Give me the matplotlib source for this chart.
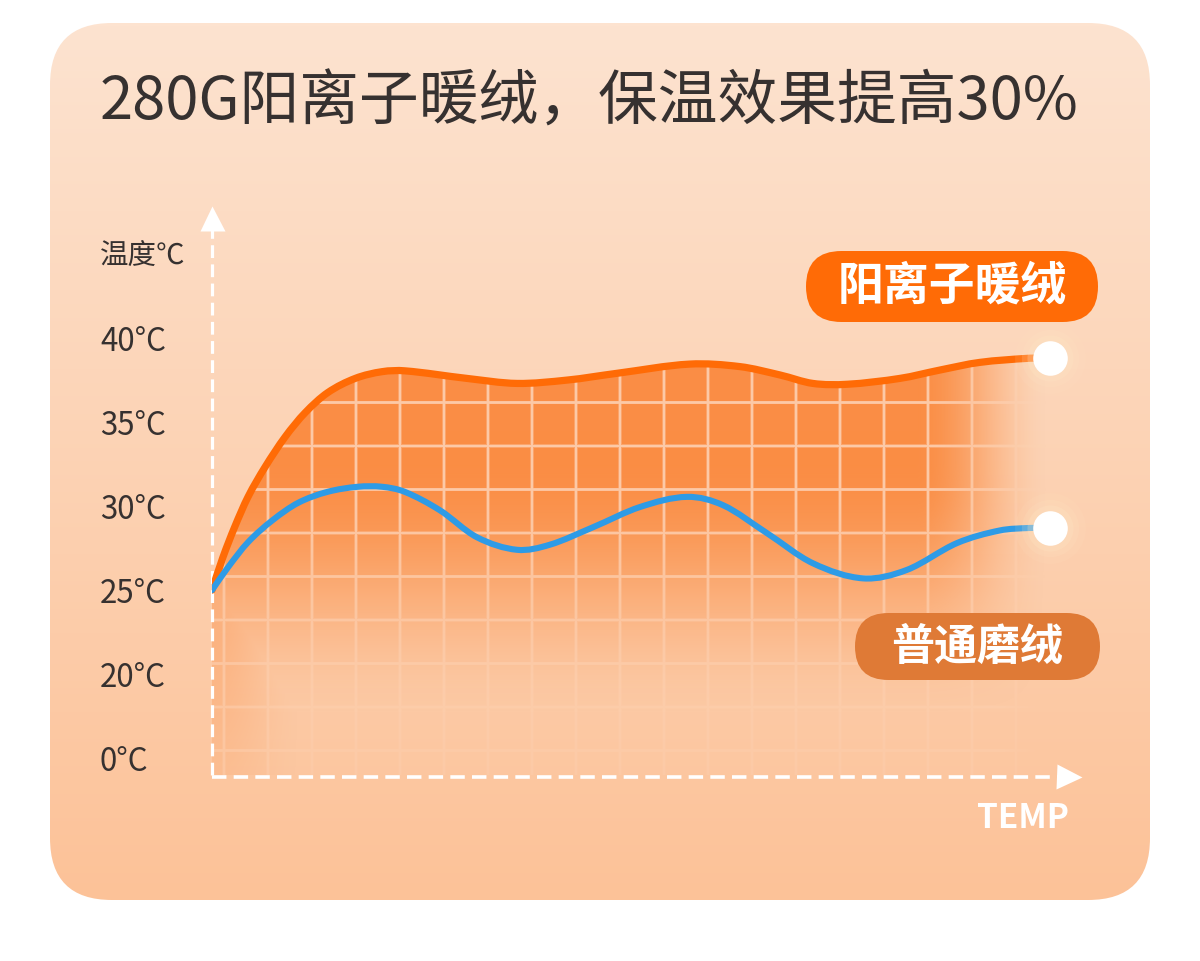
import numpy as np
import matplotlib
matplotlib.use("Agg")
import matplotlib.pyplot as plt
from matplotlib.patches import FancyBboxPatch, PathPatch
from matplotlib.path import Path

plt.rcParams['font.family'] = ['Noto Sans CJK SC', 'DejaVu Sans']

W, H = 1200, 961

title = "280G阳离子暖绒，保温效果提高30%"
y_name = "温度℃"
x_name = "TEMP"
y_ticks = [0, 20, 25, 30, 35, 40]
y_tick_labels = ["0°C", "20°C", "25°C", "30°C", "35°C", "40°C"]

name_orange = "阳离子暖绒"
x_orange = [0, 1.3, 2.7, 4.3, 6.3, 8.7, 11.1, 13.8, 17.1, 20.3, 23.0, 30.4, 36.4,
            42.4, 48.3, 57.0, 63.0, 67.8, 71.7, 75.8, 82.1, 86.9, 91.6, 97.6, 100]
t_orange = [25.0, 26.95, 28.75, 30.55, 32.3, 34.1, 35.55, 36.75, 37.6, 38.0, 38.05, 37.6, 37.3,
            37.5, 37.9, 38.45, 38.3, 37.8, 37.3, 37.25, 37.6, 38.1, 38.55, 38.8, 38.8]

name_blue = "普通磨绒"
x_blue = [0, 1.9, 4.3, 7.2, 10.3, 13.8, 17.4, 20.3, 23.0, 27.2, 31.6, 36.4, 40.3, 45.5,
          51.1, 56.7, 61.0, 66.2, 71.7, 77.7, 82.9, 88.9, 94.0, 97.6, 100]
t_blue = [25.0, 26.35, 27.85, 29.15, 30.2, 30.85, 31.15, 31.15, 30.85, 29.75, 28.15, 27.4, 27.7,
          28.75, 29.95, 30.55, 30.05, 28.4, 26.6, 25.7, 26.2, 27.8, 28.55, 28.7, 28.7]

INK = "#363130"
ORANGE = "#ff6b06"
BLUE = "#2e9be6"
FILL = np.array([250, 136, 60]) / 255

# evenly spaced tick positions on the y axis (0, 20, 25 ... 40)
scale_t = [-20, 0, 20, 25, 30, 35, 40, 60, 80]
scale_i = [-1, 0, 1, 2, 3, 4, 5, 6, 7]


def fwd(t):
    return np.interp(t, scale_t, scale_i)


def inv(i):
    return np.interp(i, scale_i, scale_t)


def smooth_path(x, y):
    # cubic hermite through the read points, drawn as bezier segments
    x = np.asarray(x, float)
    y = np.asarray(y, float)
    m = np.empty_like(y)
    m[1:-1] = (y[2:] - y[:-2]) / (x[2:] - x[:-2])
    m[0] = (y[1] - y[0]) / (x[1] - x[0])
    m[-1] = (y[-1] - y[-2]) / (x[-1] - x[-2])
    verts = [(x[0], y[0])]
    codes = [Path.MOVETO]
    for i in range(len(x) - 1):
        h = x[i + 1] - x[i]
        verts += [(x[i] + h / 3, y[i] + m[i] * h / 3),
                  (x[i + 1] - h / 3, y[i + 1] - m[i + 1] * h / 3),
                  (x[i + 1], y[i + 1])]
        codes += [Path.CURVE4] * 3
    return verts, codes


fig = plt.figure(figsize=(W / 100, H / 100), dpi=100)
fig.patch.set_facecolor("white")

bg = fig.add_axes([0, 0, 1, 1])
bg.axis("off")

# card with vertical gradient
card = FancyBboxPatch((50, 23), 1100, 877, boxstyle="round,pad=0,rounding_size=62",
                      facecolor="none", edgecolor="none")
bg.add_patch(card)
top = np.array([253, 227, 208]) / 255
bot = np.array([252, 194, 152]) / 255
g = np.linspace(0, 1, 256)[:, None]
grad = top[None, None, :] * (1 - g[..., None]) + bot[None, None, :] * g[..., None]
grad = np.repeat(grad, 4, axis=1)
cim = bg.imshow(grad, extent=(50, 1150, 900, 23), aspect="auto", zorder=0)
cim.set_clip_path(card)

# chart axes
L, R, B, T = 212, 1082, 775, 210
ax = fig.add_axes([L / W, (H - B) / H, (R - L) / W, (B - T) / H])
ax.set_facecolor("none")
ax.set_zorder(2)
ax.set_yscale("function", functions=(fwd, inv))
ax.set_xlim(0, 100 * (R - L) / (1050 - L))
y_bottom = inv(-0.2)
ax.set_ylim(y_bottom, inv((758 - T) / 84))
for s in ax.spines.values():
    s.set_visible(False)
ax.set_xticks([])
ax.set_yticks(y_ticks)
ax.set_yticklabels(y_tick_labels)
ax.minorticks_off()
ax.tick_params(axis="y", length=0, pad=(L - 100) * 0.72, labelsize=22.5, labelcolor=INK)
for lab in ax.get_yticklabels():
    lab.set_ha("left")

# dashed axes with arrow heads
ax.plot([0, 0], [0, 0.975], transform=ax.transAxes, color="white", lw=2.3,
        ls=(0, (4, 2)), clip_on=False)
ax.plot([0], [0.985], transform=ax.transAxes, marker="^", ms=18, color="white",
        mec="none", clip_on=False)
ax.plot([0, 0.975], [-0.004, -0.004], transform=ax.transAxes, color="white", lw=2.6,
        ls=(0, (4, 2)), clip_on=False)
ax.plot([0.985], [-0.004], transform=ax.transAxes, marker=">", ms=18, color="white",
        mec="none", clip_on=False)

# area under the orange curve: gradient fill + fading white grid
ov, oc = smooth_path(x_orange, t_orange)
area = Path(ov + [(x_orange[-1], y_bottom), (x_orange[0], y_bottom), (0, 0)],
            oc + [Path.LINETO, Path.LINETO, Path.CLOSEPOLY])

x0, x1, y0, y1 = 212, 1050, 340, 777
xs = np.arange(x0, x1) + 0.5
ys = np.arange(y0, y1) + 0.5
u = ((xs - 212) / 838)[None, :]
v = ((ys - 360) / 415)[:, None]


def smooth(z):
    z = np.clip(z, 0, 1)
    return z * z * (3 - 2 * z)


vert = smooth(1 - (v - 0.25) / 0.62)
horiz = smooth((1.0 - u) / 0.16)
left = 0.6 * smooth(1 - u / 0.11) * smooth(1 - (v - 0.2) / 1.2)
A = 0.93 * np.maximum(vert * horiz, left)

dx = np.abs(((xs - 224 + 22) % 44) - 22)[None, :]
dy = np.abs(((ys - 359 + 21.75) % 43.5) - 21.75)[:, None]
G = np.maximum(np.clip(1.9 - dx, 0, 1), np.clip(1.9 - dy, 0, 1))
ga = G * (0.07 + 0.5 * A) * smooth((1.0 - u) / 0.07)

out_a = ga + A * (1 - ga)
rgb = (ga[..., None] * 1.0 + (A * (1 - ga))[..., None] * FILL) / np.maximum(out_a, 1e-6)[..., None]
img = np.dstack([rgb, out_a])
fim = bg.imshow(img, extent=(x0, x1, y1, y0), aspect="auto", zorder=1,
                interpolation="bilinear")
fim.set_clip_path(area, ax.transData)
bg.set_xlim(0, W)
bg.set_ylim(H, 0)

# lines
bv, bc = smooth_path(x_blue, t_blue)
ax.add_patch(PathPatch(Path(ov, oc), fill=False, edgecolor=ORANGE, lw=5.2,
                       capstyle="round", zorder=3))
ax.add_patch(PathPatch(Path(bv, bc), fill=False, edgecolor=BLUE, lw=4.4,
                       capstyle="round", zorder=3))

# glowing end points
for xe, te in ((x_orange[-1], t_orange[-1]), (x_blue[-1], t_blue[-1])):
    for s, a in ((2600, 0.10), (1700, 0.16), (1100, 0.25)):
        ax.scatter([xe], [te], s=s, color="#ffe7c4", alpha=a, lw=0, zorder=4, clip_on=False)
    ax.scatter([xe], [te], s=620, color="white", lw=0, zorder=5, clip_on=False)

# texts
bg.text(100, 103, title, fontsize=43, color=INK, ha="left", va="center")
bg.text(100, 257, y_name, fontsize=20.5, color=INK, ha="left", va="center")
bg.text(1069, 818, x_name, fontsize=24, color="white", ha="right", va="center",
        fontweight="bold")

# series name pills
pills = [(name_orange, 806, 251, 292, 71, ORANGE, 33),
         (name_blue, 855, 613, 245, 67, "#df7a36", 31)]
for txt, px, py, pw, ph, col, fs in pills:
    bg.add_patch(FancyBboxPatch((px, py), pw, ph,
                                boxstyle=f"round,pad=0,rounding_size={ph / 2}",
                                facecolor=col, edgecolor="none", zorder=3))
    bg.text(px + pw / 2, py + ph / 2, txt, fontsize=fs, color="white", ha="center",
            va="center", fontweight="bold", zorder=4)

fig.savefig("out.png", dpi=100, facecolor="white")
